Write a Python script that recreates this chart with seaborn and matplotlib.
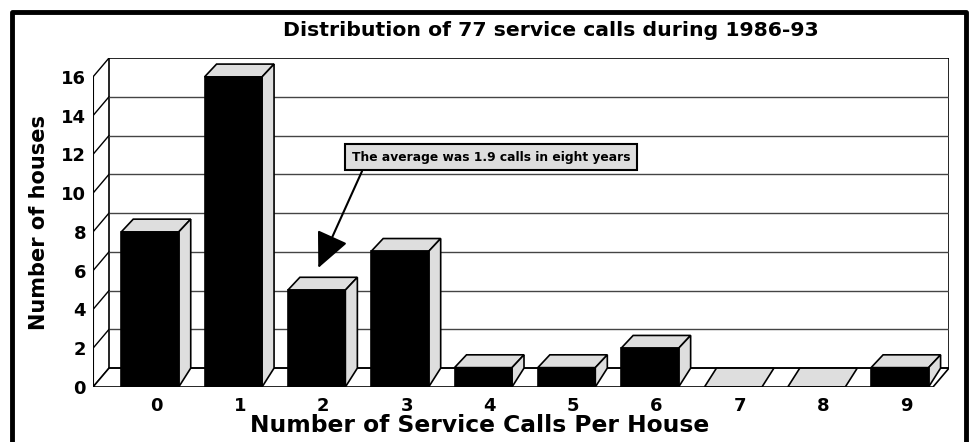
import numpy as np
import pandas as pd
import matplotlib
matplotlib.use('Agg')
import matplotlib.pyplot as plt
from matplotlib.lines import Line2D
import seaborn as sns

# Chart data
calls = ['0', '1', '2', '3', '4', '5', '6', '7', '8', '9']
houses = [8, 16, 5, 7, 1, 1, 2, 0, 0, 1]
y_ticks = [0, 2, 4, 6, 8, 10, 12, 14, 16]
title = 'Distribution of 77 service calls during 1986-93'
note = 'The average was 1.9 calls in eight years'

sns.set_style('white')
plt.rcParams['font.family'] = ['DejaVu Sans']
plt.rcParams['font.weight'] = 'bold'
plt.rcParams['text.color'] = 'black'
plt.rcParams['xtick.color'] = 'black'
plt.rcParams['ytick.color'] = 'black'

face = '#dedede'
df = pd.DataFrame({'calls': calls, 'houses': houses})

fig = plt.figure(figsize=(9.69, 4.42), dpi=100)
W, H = 969, 442
ax = fig.add_axes([93 / W, (H - 387) / H, (949 - 93) / W, (387 - 58) / H])

# 3D geometry (data units)
x0, x1 = -0.684, 9.59
wdx, wdy = 0.192, 0.974        # wall / floor depth
bdx, bdy = 0.144, 0.66         # bar top depth
ytop = 16
ax.set_xlim(x0, x1)
ax.set_ylim(0, ytop + wdy)

# back wall
ax.fill([x0 + wdx, x1, x1, x0 + wdx], [wdy, wdy, ytop + wdy, ytop + wdy],
        facecolor='white', edgecolor='black', lw=1.2, zorder=0)
for v in y_ticks[1:-1]:
    ax.plot([x0 + wdx, x1], [v + wdy, v + wdy], color='#444444', lw=1.0, zorder=0.5)
# left side wall
for v in y_ticks:
    ax.plot([x0, x0 + wdx], [v, v + wdy], color='black', lw=1.0, zorder=0.5)
ax.plot([x0, x0], [0, ytop], color='black', lw=1.5, zorder=0.5)
# floor
fx1 = x1 - wdx
ax.fill([x0, fx1, x1, x0 + wdx], [0, 0, wdy, wdy], facecolor='white',
        edgecolor='black', lw=1.2, zorder=0.6)

# front faces through seaborn
sns.barplot(data=df, x='calls', y='houses', color='black', width=0.69,
            saturation=1, edgecolor='black', linewidth=1.2, ax=ax, zorder=2)

for p in ax.containers[0]:
    xl = p.get_x()
    xr = xl + p.get_width()
    h = p.get_height()
    if h == 0:
        ax.fill([xl, xr, xr + bdx, xl + bdx], [0, 0, wdy, wdy],
                facecolor=face, edgecolor='black', lw=1.2, zorder=1)
        continue
    # top face
    ax.fill([xl, xr, xr + bdx, xl + bdx], [h, h, h + bdy, h + bdy],
            facecolor=face, edgecolor='black', lw=1.2, zorder=1)
    # side face
    ax.fill([xr, xr, xr + bdx, xr + bdx], [0, h, h + bdy, wdy],
            facecolor=face, edgecolor='black', lw=1.2, zorder=1)

ax.set_xlim(x0, x1)
ax.set_ylim(0, ytop + wdy)
ax.set_yticks(y_ticks)
ax.set_yticklabels([str(v) for v in y_ticks], fontsize=13, fontweight='bold')
ax.set_xticks([i + 0.08 for i in range(len(calls))])
ax.set_xticklabels(calls, fontsize=13, fontweight='bold')
ax.tick_params(axis='both', length=0)
ax.tick_params(axis='y', pad=5)
ax.tick_params(axis='x', pad=7)
ax.set_xlabel('')
ax.set_ylabel('')
for s in ax.spines.values():
    s.set_visible(False)

fig.text(480 / W, 1 - 426 / H, 'Number of Service Calls Per House', fontsize=16.8,
         fontweight='bold', ha='center', va='center')
fig.text(39 / W, 1 - 222 / H, 'Number of houses', fontsize=15, fontweight='bold',
         ha='center', va='center', rotation=90)

ax.annotate(note, xy=(2.02, 6.14), xytext=(4.09, 11.86), fontsize=8.8,
            fontweight='bold', ha='center', va='center',
            bbox=dict(boxstyle='square,pad=0.55', facecolor=face, edgecolor='black', lw=1.5),
            arrowprops=dict(arrowstyle='-|>,head_length=1.3,head_width=0.6', mutation_scale=17,
                            color='black', lw=1.5, relpos=(0.05, 0), shrinkA=0, shrinkB=0),
            zorder=5)

fig.text(551 / W, 1 - 30 / H, title, fontsize=14.7, fontweight='bold', ha='center', va='center')

# outer frame
fr = dict(color='black', lw=3.5, transform=fig.transFigure)
fig.add_artist(Line2D([12 / W, 12 / W, 966 / W, 966 / W], [0, 1 - 11.5 / H, 1 - 11.5 / H, 0], **fr))

fig.savefig('out.png', dpi=100)
